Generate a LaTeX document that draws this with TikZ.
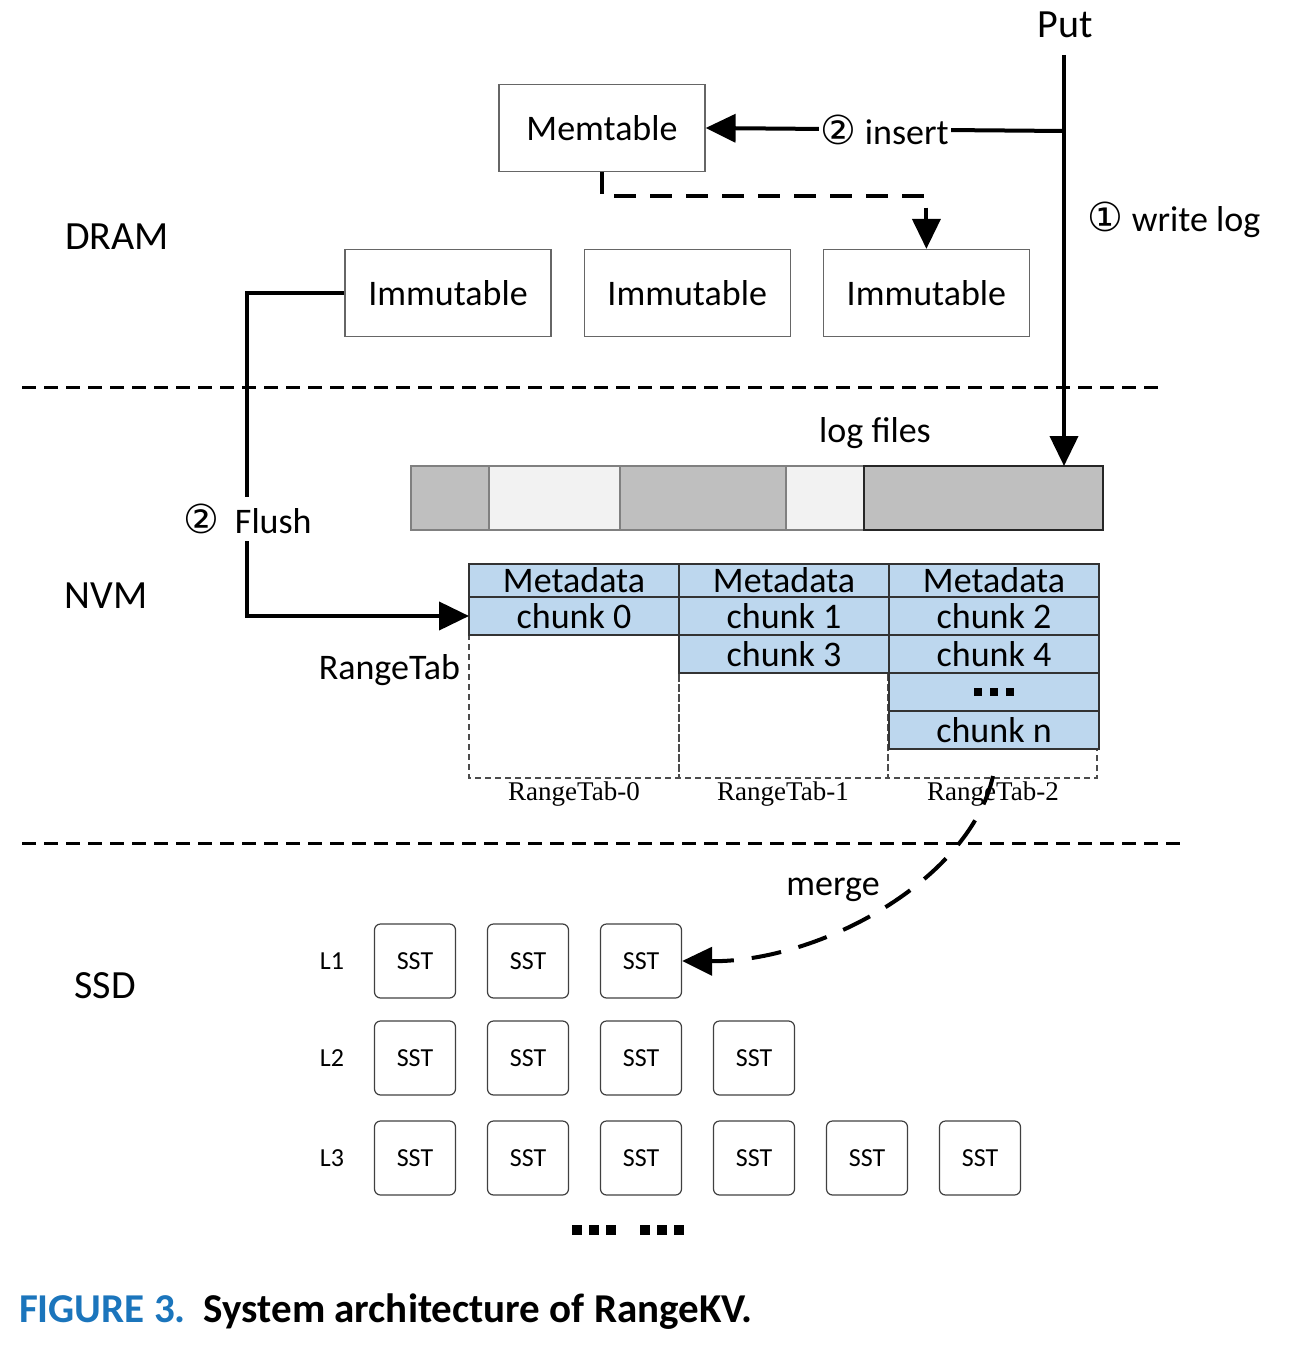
\documentclass[tikz,border=0pt]{standalone}
\usepackage{fontspec}
\setmainfont{Carlito}
\newfontfamily\circfont{DejaVu Sans}
\newfontfamily\timesfont{Liberation Serif}
\usepackage{tikz}
\usetikzlibrary{positioning, arrows.meta}
\definecolor{chunkblue}{HTML}{BDD7EE}
\definecolor{loggray}{HTML}{BFBFBF}
\definecolor{loglight}{HTML}{F2F2F2}
\definecolor{figblue}{HTML}{1B75BC}
\newcommand{\cnum}[1]{{\circfont\fontsize{20}{20}\selectfont #1}}

\begin{document}
\begin{tikzpicture}[x=0.5pt,y=-0.5pt,
    big/.style={font=\fontsize{18}{20}\selectfont},
    layer/.style={font=\fontsize{20}{22}\selectfont},
    membox/.style={draw=black!60, line width=0.6pt, minimum width=103pt, minimum height=43.5pt, big},
    logseg/.style={draw=black!50, line width=0.6pt, minimum height=32pt, inner sep=0pt, outer sep=0pt},
    cell/.style={draw=black!80, line width=0.6pt, fill=chunkblue, minimum width=105pt, minimum height=19pt, inner sep=0pt, outer sep=0pt, big},
    tabline/.style={dashed, draw=black!70, line width=0.6pt, dash pattern=on 3pt off 2pt},
    tablabel/.style={font=\timesfont\fontsize{13.5}{15}\selectfont},
    sst/.style={draw=black!75, line width=0.6pt, rounded corners=3pt, minimum width=40.5pt, minimum height=37pt, font=\fontsize{13}{14}\selectfont},
    flow/.style={line width=2pt, -{Triangle[length=15pt,width=14pt]}},
    dashflow/.style={flow, dash pattern=on 11pt off 7pt},
    mergeflow/.style={flow, dash pattern=on 15pt off 9pt},
    sepline/.style={line width=1.5pt, dash pattern=on 7pt off 4pt}]
  \useasboundingbox (0,0) rectangle (1312,1348);

  % memory layers
  \draw[sepline] (22,387) -- (1165,387);
  \draw[sepline] (22,843) -- (1183,843);
  \node[layer] (dram) at (117,237) {DRAM};
  \node[layer] (nvm) at (106,596) {NVM};
  \node[layer] (ssd) at (105,986) {SSD};

  % DRAM
  \node[membox] (mem) at (602,128) {Memtable};
  \node[membox] (imm1) at (448,293) {Immutable};
  \node[membox, right=16pt of imm1] (imm2) {Immutable};
  \node[membox, right=16pt of imm2] (imm3) {Immutable};

  % log files
  \node[big] (logtxt) at (875,433) {log files};
  \node[logseg, fill=loggray, minimum width=39pt, anchor=west] (seg1) at (411,498) {};
  \node[logseg, fill=loglight, minimum width=65.5pt, right=0pt of seg1] (seg2) {};
  \node[logseg, fill=loggray, minimum width=83pt, right=0pt of seg2] (seg3) {};
  \node[logseg, fill=loglight, minimum width=39pt, right=0pt of seg3] (seg4) {};
  \node[logseg, fill=loggray, draw=black!85, minimum width=119.5pt, right=0pt of seg4] (seg5) {};

  % range tables
  \draw[tabline] (469,564) rectangle (679,778);
  \draw[tabline] (679,564) rectangle (888,778);
  \draw[tabline] (888,564) rectangle (1097,778);
  \node[cell, minimum height=16.5pt] (m0) at (574,580.5) {Metadata};
  \node[cell, minimum height=16.5pt, right=0pt of m0] (m1) {Metadata};
  \node[cell, minimum height=16.5pt, right=0pt of m1] (m2) {Metadata};
  \node[cell, below=0pt of m0] (c0) {chunk 0};
  \node[cell, below=0pt of m1] (c1) {chunk 1};
  \node[cell, below=0pt of m2] (c2) {chunk 2};
  \node[cell, below=0pt of c1] (c3) {chunk 3};
  \node[cell, below=0pt of c2] (c4) {chunk 4};
  \node[cell, below=0pt of c4] (cdots) {};
  \node[cell, below=0pt of cdots] (cn) {chunk n};
  \foreach \d in {-1,0,1}
    \fill ([xshift=\d*8pt]cdots.center) ++(-4,-4) rectangle ++(8,8);
  \node[big, anchor=east] (rtab) at (467,670) {RangeTab};
  \node[tablabel] (rt0) at (574,794) {RangeTab-0};
  \node[tablabel] (rt1) at (783,794) {RangeTab-1};
  \node[tablabel] (rt2) at (993,794) {RangeTab-2};

  % SSD levels
  \foreach \row/\y/\n in {1/961/3, 2/1058/4, 3/1158/6} {
    \node[font=\fontsize{13}{14}\selectfont] (L\row) at (332,\y) {L\row};
    \foreach \col in {1,...,\n}
      \node[sst] (sst\row\col) at ({415+113*(\col-1)},\y) {SST};
  }
  \foreach \x in {577,594,611,645,662,679}
    \fill (\x-5,1225) rectangle ++(10,10);

  % requests
  \node[layer] (put) at (1065,25) {Put};
  \coordinate (puttop) at (1064,55);
  \coordinate (fork) at (1064,131);
  \draw[flow] (puttop) -- (seg5.north -| puttop);
  \draw[flow] (fork) -- node[fill=white, inner sep=1pt, big] {\cnum{②} insert} (mem.east);
  \node[big] (wlog) at (1174,220) {\cnum{①} write log};
  \draw[dashflow] (mem.south) -- ++(0,24) -| (imm3.north);
  \draw[flow] (imm1.west) -- ++(-97,0) |- node[pos=0.35, fill=white, big] {\cnum{②}\hspace{8pt}Flush} (c0.west);
  \coordinate (mergestart) at (993,776);
  \draw[mergeflow] (mergestart) .. controls (970,880) and (820,962) .. (sst13.east);
  \node[big] (mergetxt) at (833,890) {merge};

  % caption
  \node[anchor=west, font=\bfseries\fontsize{20.5}{24}\selectfont] (caption) at (12,1312)
    {\textcolor{figblue}{FIGURE 3.}\hspace{9pt}System architecture of RangeKV.};
\end{tikzpicture}
\end{document}
